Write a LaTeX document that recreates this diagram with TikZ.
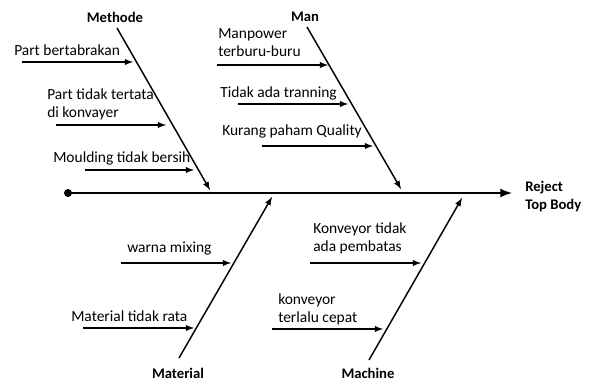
\documentclass[tikz,border=0pt]{standalone}
\usepackage{fontspec}
\setmainfont{Carlito}

\begin{document}
\begin{tikzpicture}[x=0.75pt, y=-0.75pt, font=\fontsize{11.6}{13.5}\selectfont,
    cause/.style = {anchor=west, align=left, inner sep=0pt},
    cat/.style = {font=\fontsize{11}{13.5}\selectfont\bfseries, inner sep=0pt},
    bone/.style = {line width=1.1pt, -latex},
    spine/.style = {line width=2pt, -latex}]
  \useasboundingbox (0,0) rectangle (593,381);
  % spine
  \coordinate (tail) at (68,193);
  \coordinate (head) at (512,193);
  \fill (tail) circle (3pt);
  \draw[spine] (tail) -- (head);
  \node[cat, anchor=west, align=left] (effect) at (525,197) {Reject\\Top Body};
  % Methode
  \node[cat] (methode) at (115,17) {Methode};
  \coordinate (mtop) at (117,28);
  \coordinate (mend) at (210,190);
  \draw[bone] (mtop) -- (mend);
  \node[cause] (m1) at (14,50) {Part bertabrakan};
  \coordinate (m1s) at (22,62);
  \coordinate (m1e) at (133,62);
  \draw[bone] (m1s) -- (m1e);
  \node[cause] (m2) at (47,104) {Part tidak tertata\\di konvayer};
  \coordinate (m2s) at (56,125);
  \coordinate (m2e) at (166,125);
  \draw[bone] (m2s) -- (m2e);
  \node[cause] (m3) at (53,158) {Moulding tidak bersih};
  \coordinate (m3s) at (85,170);
  \coordinate (m3e) at (194,170);
  \draw[bone] (m3s) -- (m3e);
  % Man
  \node[cat] (man) at (305,17) {Man};
  \coordinate (ntop) at (307,27);
  \coordinate (nend) at (401,189);
  \draw[bone] (ntop) -- (nend);
  \node[cause] (n1) at (218,43) {Manpower\\terburu-buru};
  \coordinate (n1s) at (217,65);
  \coordinate (n1e) at (328,65);
  \draw[bone] (n1s) -- (n1e);
  \node[cause] (n2) at (220,93) {Tidak ada tranning};
  \coordinate (n2s) at (238,104);
  \coordinate (n2e) at (348,104);
  \draw[bone] (n2s) -- (n2e);
  \node[cause] (n3) at (222,131) {Kurang paham Quality};
  \coordinate (n3s) at (262,146);
  \coordinate (n3e) at (373,146);
  \draw[bone] (n3s) -- (n3e);
  % Material
  \node[cat] (material) at (178,373) {Material};
  \coordinate (tbot) at (179,358);
  \coordinate (tend) at (272,197);
  \draw[bone] (tbot) -- (tend);
  \node[cause] (t1) at (127,249) {warna mixing};
  \coordinate (t1s) at (121,263);
  \coordinate (t1e) at (231,263);
  \draw[bone] (t1s) -- (t1e);
  \node[cause] (t2) at (71,316) {Material tidak rata};
  \coordinate (t2s) at (83,328);
  \coordinate (t2e) at (194,328);
  \draw[bone] (t2s) -- (t2e);
  % Machine
  \node[cat] (machine) at (368,373) {Machine};
  \coordinate (cbot) at (369,360);
  \coordinate (cend) at (462,198);
  \draw[bone] (cbot) -- (cend);
  \node[cause] (c1) at (313,238) {Konveyor tidak\\ada pembatas};
  \coordinate (c1s) at (310,263);
  \coordinate (c1e) at (421,263);
  \draw[bone] (c1s) -- (c1e);
  \node[cause] (c2) at (278,309) {konveyor\\terlalu cepat};
  \coordinate (c2s) at (272,329);
  \coordinate (c2e) at (383,329);
  \draw[bone] (c2s) -- (c2e);
\end{tikzpicture}
\end{document}
